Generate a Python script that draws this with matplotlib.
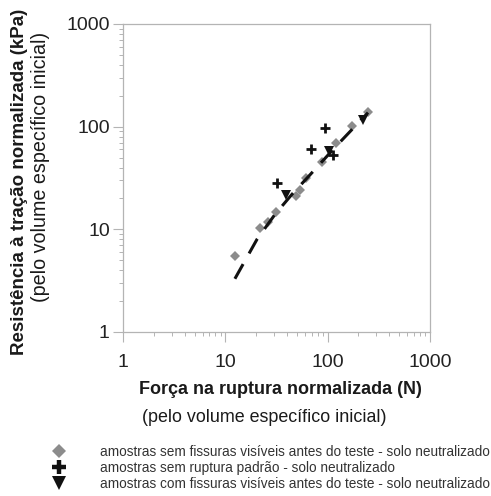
import matplotlib
matplotlib.use("Agg")
import matplotlib.pyplot as plt
from matplotlib.lines import Line2D
from matplotlib.ticker import LogLocator, FixedFormatter, FixedLocator, NullFormatter

plt.rcParams['font.family'] = ['Liberation Sans', 'DejaVu Sans']

# --- data ---
diamond_x = [12.4, 21.8, 26.1, 31.3, 49.1, 53.7, 61.5, 87.6, 121, 172, 250]
diamond_y = [5.5, 10.3, 11.8, 14.7, 21.1, 24.1, 31.6, 45.5, 69, 101, 138]

plus_x = [32, 68.8, 94.3, 113]
plus_y = [28.2, 60.5, 96.9, 53]

tri_x = [38.9, 104, 222]
tri_y = [21.6, 58, 116]

line_x = [12.4, 20.4, 30.6, 44.9, 67.3, 120, 248]
line_y = [3.3, 8.0, 14.0, 22.0, 34.0, 64, 137]

tick_vals = [1, 10, 100, 1000]
tick_labels = ['1', '10', '100', '1000']

legend_labels = [
    'amostras sem fissuras visíveis antes do teste - solo neutralizado',
    'amostras sem ruptura padrão - solo neutralizado',
    'amostras com fissuras visíveis antes do teste - solo neutralizado',
]

W, H = 491, 496
fig = plt.figure(figsize=(W / 100, H / 100), dpi=100)
ax = fig.add_axes([123 / W, 1 - 332 / H, (430 - 123) / W, (332 - 24) / H])

grey = '#8c8c8c'
ax.plot(diamond_x, diamond_y, linestyle='none', marker='D', markersize=4.6,
        color=grey, markeredgewidth=0, zorder=3)
ax.plot(line_x, line_y, color='#111111', linewidth=2.2, dashes=(5.5, 4),
        solid_capstyle='butt', dash_capstyle='butt', zorder=4)
ax.plot(plus_x, plus_y, linestyle='none', marker='+', markersize=6.5,
        markeredgewidth=2.0, color='#111111', zorder=5)
ax.plot(tri_x, tri_y, linestyle='none', marker='v', markersize=6.5,
        color='#111111', markeredgewidth=0, zorder=5)

ax.set_xscale('log')
ax.set_yscale('log')
ax.set_xlim(1, 1000)
ax.set_ylim(1, 1000)

for a in (ax.xaxis, ax.yaxis):
    a.set_major_locator(FixedLocator(tick_vals))
    a.set_major_formatter(FixedFormatter(tick_labels))
    a.set_minor_locator(LogLocator(base=10, subs=range(2, 10)))
    a.set_minor_formatter(NullFormatter())

spine_col = '#b4b4b4'
for s in ax.spines.values():
    s.set_color(spine_col)
    s.set_linewidth(0.9)
ax.tick_params(which='major', direction='out', length=7.5, width=0.8,
               color=spine_col, labelsize=14, labelcolor='#222222')
ax.tick_params(which='minor', direction='out', length=3.2, width=0.7,
               color=spine_col)
ax.tick_params(axis='x', which='major', pad=8)
ax.tick_params(axis='y', which='major', pad=2)

# axis titles
fig.text(280 / W, 1 - 390 / H, 'Força na ruptura normalizada (N)',
         ha='center', va='center', fontsize=13, fontweight='bold', color='#1a1a1a')
fig.text(264 / W, 1 - 417 / H, '(pelo volume específico inicial)',
         ha='center', va='center', fontsize=12.9, color='#1a1a1a')
fig.text(20 / W, 1 - 182 / H, 'Resistência à tração normalizada (kPa)',
         ha='center', va='center', rotation=90, fontsize=13.5, fontweight='bold',
         color='#1a1a1a')
fig.text(41 / W, 1 - 167 / H, '(pelo volume específico inicial)',
         ha='center', va='center', rotation=90, fontsize=14.2, color='#1a1a1a')

handles = [
    Line2D([], [], linestyle='none', marker='D', markersize=7, color=grey,
           markeredgewidth=0),
    Line2D([], [], linestyle='none', marker='+', markersize=10,
           markeredgewidth=3.2, color='#111111'),
    Line2D([], [], linestyle='none', marker='v', markersize=9.5,
           color='#111111', markeredgewidth=0),
]
fs = 9.8
px_per_fs = fs * 100 / 72
hl = 2.0
htp = (100 - 45 - hl * px_per_fs) / px_per_fs
leg = fig.legend(handles, legend_labels, loc='upper left',
                 bbox_to_anchor=(45 / W, 1 - 445 / H), frameon=False,
                 fontsize=fs, handlelength=hl, handletextpad=htp,
                 labelspacing=0.15, borderpad=0, borderaxespad=0)
for t in leg.get_texts():
    t.set_color('#333333')

fig.savefig('out.png', dpi=100)
